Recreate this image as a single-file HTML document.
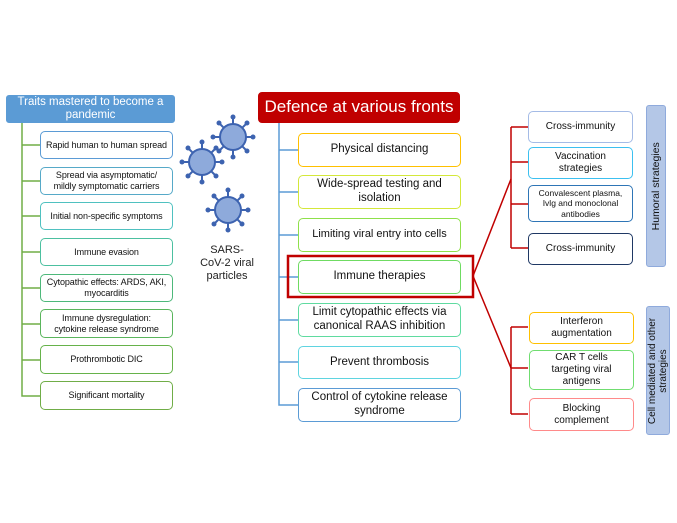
<!DOCTYPE html>
<html><head><style>
body{margin:0;width:677px;height:523px;background:#fff;position:relative;overflow:hidden;font-family:"Liberation Sans",sans-serif}
.b{position:absolute;box-sizing:border-box;border:1.3px solid;border-radius:5px;display:flex;align-items:center;justify-content:center;text-align:center;color:#111;background:#fff;line-height:1.2}
.l{font-size:9px;padding:0 4px;letter-spacing:-0.1px}
.c{font-size:11.5px;padding:0 8px}
.r{font-size:10px;padding:0 12px}
</style></head><body>
<svg width="677" height="523" style="position:absolute;left:0;top:0">
<g stroke="#70ad47" stroke-width="1.5" fill="none">
<path d="M22 122V396H40"/>
<path d="M22 145H40M22 181H40M22 216H40M22 252H40M22 288H40M22 324H40M22 360H40"/>
</g>
<g stroke="#5b9bd5" stroke-width="1.5" fill="none">
<path d="M279 123V405H298"/>
<path d="M279 150H298M279 192H298M279 235H298M279 277H298M279 320H298M279 362H298"/>
</g>
<g stroke="#c00000" stroke-width="1.5" fill="none">
<path d="M473 276L511 179M473 276L511 368"/>
<path d="M511 127V248M511 127H528M511 162H528M511 204H528M511 248H528"/>
<path d="M511 327V414M511 327H528M511 368H528M511 414H528"/>
</g>
<rect x="288" y="256" width="185" height="41" fill="none" stroke="#c00000" stroke-width="2.5"/>
<defs>
<g id="v">
<g stroke="#3d63b0" stroke-width="2">
<line x1="0" y1="-20" x2="0" y2="20"/><line x1="-20" y1="0" x2="20" y2="0"/>
<line x1="-14" y1="-14" x2="14" y2="14"/><line x1="-14" y1="14" x2="14" y2="-14"/>
</g>
<g fill="#3d63b0"><circle cx="0" cy="-20" r="2.5"/><circle cx="0" cy="20" r="2.5"/><circle cx="-20" cy="0" r="2.5"/><circle cx="20" cy="0" r="2.5"/>
<circle cx="-14" cy="-14" r="2.5"/><circle cx="14" cy="14" r="2.5"/><circle cx="-14" cy="14" r="2.5"/><circle cx="14" cy="-14" r="2.5"/></g>
<circle r="13" fill="#8eaadb" stroke="#3d63b0" stroke-width="2"/>
</g>
</defs>
<use href="#v" x="233" y="137"/>
<use href="#v" x="202" y="162"/>
<use href="#v" x="228" y="210"/>
</svg>
<div style="position:absolute;left:196px;top:244px;width:62px;text-align:center;font-size:11px;line-height:13px;color:#222">SARS-<br>CoV-2 viral<br>particles</div>

<div class="b" style="left:6px;top:95px;width:169px;height:28px;background:#5b9bd5;border-color:#5b9bd5;color:#fff;font-size:11.5px;border-radius:3px;line-height:13px;padding:0 6px">Traits mastered to become a pandemic</div>
<div class="b l" style="left:40px;top:131px;width:133px;height:28px;border-color:#5b9bd5">Rapid human to human spread</div>
<div class="b l" style="left:40px;top:167px;width:133px;height:28px;border-color:#56a9c8">Spread via asymptomatic/ mildly symptomatic carriers</div>
<div class="b l" style="left:40px;top:202px;width:133px;height:28px;border-color:#4fc1c0">Initial non-specific symptoms</div>
<div class="b l" style="left:40px;top:238px;width:133px;height:28px;border-color:#4cc0a0">Immune evasion</div>
<div class="b l" style="left:40px;top:274px;width:133px;height:28px;border-color:#4db87a">Cytopathic effects: ARDS, AKI, myocarditis</div>
<div class="b l" style="left:40px;top:309px;width:133px;height:29px;border-color:#5ab55c">Immune dysregulation: cytokine release syndrome</div>
<div class="b l" style="left:40px;top:345px;width:133px;height:29px;border-color:#66b24a">Prothrombotic DIC</div>
<div class="b l" style="left:40px;top:381px;width:133px;height:29px;border-color:#70ad47">Significant mortality</div>

<div class="b" style="left:258px;top:92px;width:202px;height:31px;background:#c00000;border-color:#c00000;color:#fff;font-size:17px;border-radius:4px;white-space:nowrap">Defence at various fronts</div>
<div class="b c" style="left:298px;top:133px;width:163px;height:34px;border-color:#ffc000">Physical distancing</div>
<div class="b c" style="left:298px;top:175px;width:163px;height:34px;border-color:#d4e83a">Wide-spread testing and isolation</div>
<div class="b c" style="left:298px;top:218px;width:163px;height:34px;border-color:#8fe04a;font-size:11px;padding:0 4px">Limiting viral entry into cells</div>
<div class="b c" style="left:298px;top:260px;width:163px;height:34px;border-color:#6fdb62">Immune therapies</div>
<div class="b c" style="left:298px;top:303px;width:163px;height:34px;border-color:#5fdba0">Limit cytopathic effects via canonical RAAS inhibition</div>
<div class="b c" style="left:298px;top:346px;width:163px;height:33px;border-color:#5fd4e0">Prevent thrombosis</div>
<div class="b c" style="left:298px;top:388px;width:163px;height:34px;border-color:#5b9bd5">Control of cytokine release syndrome</div>

<div class="b r" style="left:528px;top:111px;width:105px;height:32px;border-color:#a4bbe6">Cross-immunity</div>
<div class="b r" style="left:528px;top:147px;width:105px;height:32px;border-color:#3cc0f0">Vaccination strategies</div>
<div class="b" style="left:528px;top:185px;width:105px;height:37px;border-color:#2e75b6;font-size:8.5px;padding:0 3px">Convalescent plasma, Ivlg and monoclonal antibodies</div>
<div class="b r" style="left:528px;top:233px;width:105px;height:32px;border-color:#1f3864">Cross-immunity</div>
<div class="b r" style="left:529px;top:312px;width:105px;height:32px;border-color:#ffc000">Interferon augmentation</div>
<div class="b r" style="left:529px;top:350px;width:105px;height:40px;border-color:#70dd70;padding:0 14px">CAR T cells targeting viral antigens</div>
<div class="b r" style="left:529px;top:398px;width:105px;height:33px;border-color:#ff8a8a;padding:0 22px">Blocking complement</div>

<div class="b" style="left:646px;top:105px;width:20px;height:162px;background:#b4c7e7;border-color:#8faadc;border-radius:3px"><span style="transform:rotate(-90deg);white-space:nowrap;font-size:10.5px">Humoral strategies</span></div>
<div class="b" style="left:646px;top:306px;width:24px;height:129px;background:#b4c7e7;border-color:#8faadc;border-radius:3px"><span style="transform:rotate(-90deg);white-space:nowrap;font-size:10px;line-height:11px">Cell mediated and other<br>strategies</span></div>
</body></html>
